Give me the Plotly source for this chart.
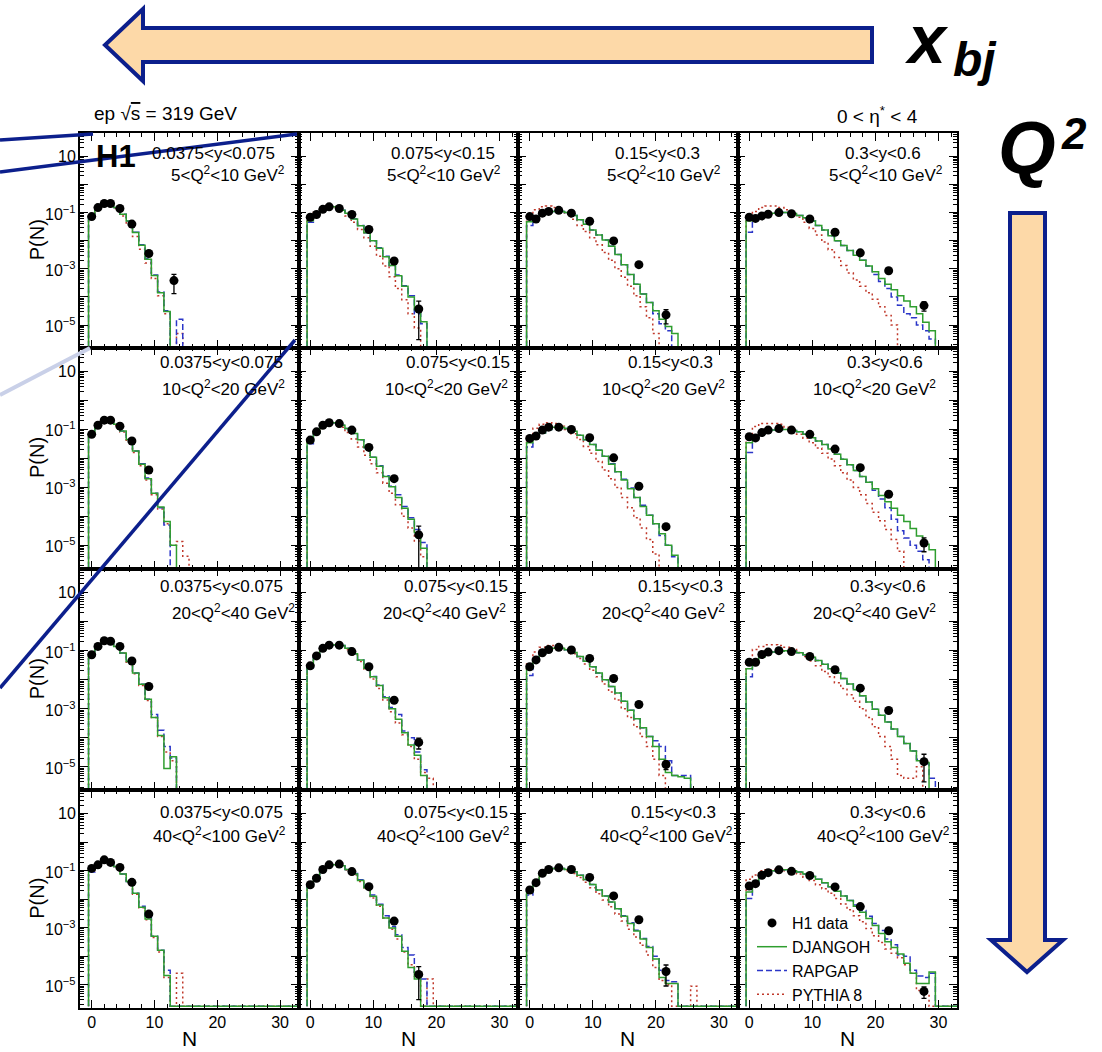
import math
import plotly.graph_objects as go

# ============ DATA ============
y_bin_labels = ["0.0375&lt;y&lt;0.075", "0.075&lt;y&lt;0.15", "0.15&lt;y&lt;0.3", "0.3&lt;y&lt;0.6"]
q2_bin_labels = ["5&lt;Q<sup>2</sup>&lt;10 GeV<sup>2</sup>", "10&lt;Q<sup>2</sup>&lt;20 GeV<sup>2</sup>",
                 "20&lt;Q<sup>2</sup>&lt;40 GeV<sup>2</sup>", "40&lt;Q<sup>2</sup>&lt;100 GeV<sup>2</sup>"]
x_tick_vals = [0, 10, 20, 30]
y_label_decades = [-5, -3, -1, 1]
y_label_text = ["10<sup>\u22125</sup>", "10<sup>\u22123</sup>", "10<sup>\u22121</sup>", "10"]

# H1 data point positions (mean N of the data bins) per column
data_x_col1 = [0, 1, 2, 3, 4.5, 6.4, 9.1, 13.1]
data_x_col2 = [0, 1, 2, 3, 4.6, 6.6, 9.3, 13.3, 17.2]
data_x_col3 = [0, 1, 2, 3, 4.6, 6.6, 9.5, 13.3, 17.3, 21.6]
data_x_col4 = [0, 1, 2, 3, 4.7, 6.7, 9.6, 13.6, 17.6, 22.1, 27.7]

# H1 data P(N)
h1_r1c1 = [7.2e-2, 1.5e-1, 2.1e-1, 2.1e-1, 1.4e-1, 3.9e-2, 3.5e-3, 3.8e-4]
h1_r1c2 = [6.8e-2, 8.5e-2, 1.3e-1, 1.6e-1, 1.4e-1, 8.5e-2, 2.5e-2, 1.9e-3, 3.7e-5]
h1_r1c3 = [7.2e-2, 5.9e-2, 9.5e-2, 1.1e-1, 1.2e-1, 9.5e-2, 4.9e-2, 9.8e-3, 1.4e-3, 2.3e-5]
h1_r1c4 = [6.8e-2, 6.2e-2, 7.6e-2, 8.7e-2, 1.0e-1, 9.1e-2, 5.9e-2, 2.0e-2, 3.7e-3, 8.5e-4, 4.9e-5]
h1_r2c1 = [6.8e-2, 1.4e-1, 2.1e-1, 2.1e-1, 1.3e-1, 4.0e-2, 4.0e-3]
h1_r2c2 = [4.3e-2, 8.3e-2, 1.4e-1, 1.7e-1, 1.6e-1, 9.5e-2, 2.4e-2, 2.0e-3, 2.3e-5]
h1_r2c3 = [4.9e-2, 5.9e-2, 9.5e-2, 1.2e-1, 1.2e-1, 1.0e-1, 5.2e-2, 1.05e-2, 1.1e-3, 4.4e-5]
h1_r2c4 = [5.6e-2, 5.1e-2, 7.8e-2, 9.5e-2, 1.07e-1, 9.5e-2, 6.8e-2, 2.1e-2, 4.8e-3, 5.8e-4, 1.2e-5]
h1_r3c1 = [7.2e-2, 1.4e-1, 2.2e-1, 2.1e-1, 1.4e-1, 4.4e-2, 5.8e-3]
h1_r3c2 = [3.0e-2, 6.6e-2, 1.2e-1, 1.55e-1, 1.55e-1, 9.3e-2, 2.8e-2, 1.95e-3, 6.9e-5]
h1_r3c3 = [2.8e-2, 4.8e-2, 8.5e-2, 1.1e-1, 1.3e-1, 1.05e-1, 5.4e-2, 1.1e-2, 1.4e-3, 1.2e-5]
h1_r3c4 = [4.0e-2, 4.0e-2, 7.4e-2, 8.9e-2, 1.0e-1, 9.3e-2, 6.3e-2, 2.2e-2, 5.1e-3, 8.7e-4, 1.5e-5]
h1_r4c1 = [1.2e-1, 1.6e-1, 2.4e-1, 1.95e-1, 1.3e-1, 3.9e-2, 3.0e-3]
h1_r4c2 = [3.2e-2, 5.4e-2, 1.1e-1, 1.6e-1, 1.7e-1, 9.3e-2, 2.75e-2, 1.7e-3, 2.3e-5]
h1_r4c3 = [2.1e-2, 3.8e-2, 8.1e-2, 1.1e-1, 1.26e-1, 1.1e-1, 5.8e-2, 1.3e-2, 1.9e-3, 2.9e-5]
h1_r4c4 = [2.9e-2, 3.5e-2, 6.9e-2, 8.5e-2, 1.07e-1, 9.5e-2, 6.8e-2, 2.7e-2, 5.5e-3, 7.8e-4, 5.8e-6]

# uncertainty of the last (highest-N) data point in each panel, row by row
h1_last_err = [2.5e-4, 3.4e-5, 1.2e-5, 1.8e-5,
               2.0e-4, 2.3e-5, 8.0e-6, 6.0e-6,
               3.0e-4, 2.8e-5, 4.0e-6, 1.2e-5,
               2.0e-4, 2.0e-5, 2.0e-5, 2.5e-6]

# MC predictions, P(N) for N = 0, 1, 2, ... (bins not listed are empty)
djangoh_r1c1 = [7.6e-2, 1.5e-1, 2.0e-1, 2.0e-1, 1.5e-1, 8.7e-2, 5.0e-2, 1.95e-2, 6.9e-3, 2.2e-3, 5.8e-4, 1.4e-4, 3.0e-5]
rapgap_r1c1 = [7.2e-2, 1.5e-1, 2.0e-1, 2.0e-1, 1.5e-1, 8.7e-2, 5.0e-2, 2.0e-2, 7.2e-3, 2.3e-3, 6.0e-4, 1.5e-4, 3.2e-5, 0, 1.6e-5]
pythia_r1c1 = [7.1e-2, 1.5e-1, 2.1e-1, 2.0e-1, 1.4e-1, 7.6e-2, 3.8e-2, 1.4e-2, 5.0e-3, 1.6e-3, 4.5e-4, 1.1e-4, 2.5e-5, 0, 5.0e-6]

djangoh_r1c2 = [5.1e-2, 8.7e-2, 1.4e-1, 1.7e-1, 1.6e-1, 1.2e-1, 9.5e-2, 5.9e-2, 3.4e-2, 1.9e-2, 1.0e-2, 5.4e-3, 2.7e-3, 1.3e-3, 5.6e-4, 2.4e-4, 1.0e-4, 3.5e-5, 1.3e-5]
rapgap_r1c2 = [4.5e-2, 8.5e-2, 1.4e-1, 1.7e-1, 1.6e-1, 1.2e-1, 9.5e-2, 6.0e-2, 3.5e-2, 1.9e-2, 1.0e-2, 5.6e-3, 2.8e-3, 1.3e-3, 6.0e-4, 2.5e-4, 1.1e-4, 2.5e-5, 1.1e-5]
pythia_r1c2 = [5.6e-2, 1.1e-1, 1.6e-1, 1.8e-1, 1.6e-1, 1.2e-1, 7.6e-2, 4.5e-2, 2.5e-2, 1.26e-2, 6.3e-3, 2.8e-3, 1.26e-3, 5.2e-4, 2.0e-4, 7.9e-5, 2.5e-5, 7.9e-6]

djangoh_r1c3 = [4.7e-2, 6.3e-2, 8.3e-2, 1.0e-1, 1.1e-1, 1.1e-1, 1.0e-1, 7.9e-2, 5.6e-2, 3.8e-2, 2.4e-2, 1.6e-2, 1.05e-2, 6.3e-3, 3.2e-3, 1.4e-3, 6.3e-4, 2.8e-4, 1.26e-4, 6.3e-5, 3.2e-5, 1.6e-5, 8.9e-6, 5.0e-6]
rapgap_r1c3 = [3.5e-2, 6.3e-2, 8.3e-2, 1.0e-1, 1.1e-1, 1.1e-1, 1.0e-1, 7.9e-2, 5.6e-2, 3.8e-2, 2.4e-2, 1.6e-2, 1.05e-2, 6.3e-3, 3.2e-3, 1.4e-3, 6.3e-4, 2.8e-4, 1.26e-4, 6.3e-5, 2.5e-5, 1.1e-5, 6.3e-6]
pythia_r1c3 = [7.1e-2, 1.26e-1, 1.6e-1, 1.7e-1, 1.5e-1, 1.2e-1, 8.7e-2, 5.8e-2, 3.5e-2, 2.1e-2, 1.26e-2, 7.1e-3, 3.8e-3, 2.0e-3, 1.0e-3, 5.0e-4, 2.4e-4, 1.1e-4, 4.5e-5, 1.8e-5, 5.0e-6]

djangoh_r1c4 = [5.1e-2, 6.3e-2, 7.6e-2, 8.5e-2, 9.5e-2, 1.0e-1, 1.0e-1, 9.3e-2, 7.9e-2, 6.6e-2, 5.0e-2, 3.5e-2, 2.4e-2, 1.5e-2, 1.0e-2, 6.8e-3, 4.5e-3, 3.0e-3, 2.0e-3, 1.26e-3, 7.9e-4, 4.5e-4, 2.8e-4, 1.8e-4, 1.1e-4, 7.1e-5, 4.5e-5, 2.5e-5, 1.26e-5, 6.3e-6]
rapgap_r1c4 = [2.0e-2, 6.3e-2, 7.6e-2, 8.5e-2, 9.5e-2, 1.0e-1, 1.0e-1, 9.3e-2, 7.9e-2, 6.6e-2, 5.0e-2, 3.5e-2, 2.4e-2, 1.5e-2, 1.0e-2, 6.8e-3, 4.5e-3, 3.0e-3, 2.0e-3, 1.26e-3, 6.3e-4, 3.5e-4, 2.0e-4, 1.0e-4, 5.0e-5, 2.5e-5, 1.8e-5, 1.0e-5, 6.3e-6, 3.2e-6]
pythia_r1c4 = [5.6e-2, 1.1e-1, 1.5e-1, 1.7e-1, 1.7e-1, 1.5e-1, 1.26e-1, 9.5e-2, 6.8e-2, 4.5e-2, 2.7e-2, 1.6e-2, 8.9e-3, 4.8e-3, 2.5e-3, 1.3e-3, 7.1e-4, 4.0e-4, 2.4e-4, 1.4e-4, 8.3e-5, 4.5e-5, 2.2e-5, 1.0e-5]

djangoh_r2c1 = [7.1e-2, 1.4e-1, 2.0e-1, 2.1e-1, 1.5e-1, 8.9e-2, 4.5e-2, 1.8e-2, 6.3e-3, 2.0e-3, 6.3e-4, 2.1e-4, 6.6e-5, 1.0e-5]
rapgap_r2c1 = [6.8e-2, 1.4e-1, 2.0e-1, 2.1e-1, 1.5e-1, 8.9e-2, 4.5e-2, 1.8e-2, 6.6e-3, 2.1e-3, 6.3e-4, 2.0e-4, 5.0e-5]
pythia_r2c1 = [7.1e-2, 1.4e-1, 2.1e-1, 2.1e-1, 1.4e-1, 8.1e-2, 3.9e-2, 1.6e-2, 5.6e-3, 1.8e-3, 5.6e-4, 1.8e-4, 5.6e-5, 1.0e-5, 1.35e-5, 4.2e-6]

djangoh_r2c2 = [3.8e-2, 7.6e-2, 1.26e-1, 1.6e-1, 1.7e-1, 1.4e-1, 1.07e-1, 7.2e-2, 4.4e-2, 2.4e-2, 1.1e-2, 5.4e-3, 2.4e-3, 1.05e-3, 4.5e-4, 1.9e-4, 7.9e-5, 2.8e-5, 7.9e-6]
rapgap_r2c2 = [3.2e-2, 7.6e-2, 1.26e-1, 1.6e-1, 1.7e-1, 1.4e-1, 1.07e-1, 7.2e-2, 4.4e-2, 2.4e-2, 1.1e-2, 5.6e-3, 2.5e-3, 1.1e-3, 5.6e-4, 2.2e-4, 8.9e-5, 3.5e-5, 1.26e-5]
pythia_r2c2 = [4.0e-2, 8.9e-2, 1.4e-1, 1.7e-1, 1.6e-1, 1.2e-1, 7.9e-2, 4.7e-2, 2.5e-2, 1.3e-2, 6.6e-3, 3.2e-3, 1.4e-3, 6.3e-4, 2.5e-4, 1.0e-4, 4.0e-5, 1.4e-5, 4.0e-6]

djangoh_r2c3 = [3.5e-2, 5.4e-2, 7.6e-2, 1.0e-1, 1.2e-1, 1.2e-1, 1.07e-1, 8.7e-2, 6.3e-2, 4.4e-2, 3.0e-2, 1.9e-2, 1.2e-2, 6.3e-3, 3.5e-3, 1.8e-3, 8.9e-4, 4.5e-4, 2.2e-4, 1.1e-4, 5.6e-5, 2.5e-5, 1.0e-5, 4.5e-6]
rapgap_r2c3 = [2.5e-2, 5.4e-2, 7.6e-2, 1.0e-1, 1.2e-1, 1.2e-1, 1.07e-1, 8.7e-2, 6.3e-2, 4.4e-2, 3.0e-2, 1.9e-2, 1.2e-2, 6.6e-3, 3.5e-3, 1.9e-3, 9.5e-4, 4.5e-4, 2.4e-4, 1.1e-4, 5.6e-5, 2.2e-5, 1.0e-5, 4.0e-6]
pythia_r2c3 = [5.6e-2, 1.1e-1, 1.5e-1, 1.7e-1, 1.6e-1, 1.3e-1, 1.0e-1, 7.1e-2, 4.5e-2, 2.6e-2, 1.5e-2, 7.9e-3, 4.0e-3, 2.0e-3, 1.0e-3, 4.5e-4, 2.0e-4, 8.9e-5, 4.0e-5, 1.6e-5, 5.0e-6]

djangoh_r2c4 = [3.5e-2, 5.6e-2, 7.1e-2, 8.5e-2, 9.5e-2, 1.0e-1, 1.0e-1, 9.3e-2, 8.3e-2, 6.9e-2, 5.2e-2, 4.0e-2, 3.0e-2, 2.1e-2, 1.4e-2, 9.3e-3, 6.0e-3, 3.8e-3, 2.4e-3, 1.5e-3, 8.9e-4, 5.2e-4, 3.2e-4, 1.9e-4, 1.1e-4, 6.6e-5, 3.8e-5, 2.1e-5, 1.1e-5, 7.1e-6]
rapgap_r2c4 = [1.6e-2, 5.6e-2, 7.1e-2, 8.5e-2, 9.5e-2, 1.0e-1, 1.0e-1, 9.3e-2, 8.3e-2, 6.9e-2, 5.2e-2, 4.0e-2, 3.0e-2, 2.1e-2, 1.4e-2, 9.3e-3, 6.0e-3, 3.8e-3, 2.4e-3, 1.5e-3, 7.9e-4, 4.0e-4, 2.0e-4, 7.9e-5, 3.2e-5, 1.8e-5, 1.0e-5, 6.3e-6, 3.2e-6]
pythia_r2c4 = [5.0e-2, 1.26e-1, 1.6e-1, 1.6e-1, 1.6e-1, 1.5e-1, 1.2e-1, 9.3e-2, 6.9e-2, 5.0e-2, 3.5e-2, 2.3e-2, 1.5e-2, 9.5e-3, 5.6e-3, 3.2e-3, 1.8e-3, 1.0e-3, 5.6e-4, 2.8e-4, 1.4e-4, 7.1e-5, 3.5e-5, 1.6e-5, 6.3e-6]

djangoh_r3c1 = [7.1e-2, 1.4e-1, 2.0e-1, 2.0e-1, 1.4e-1, 8.3e-2, 4.2e-2, 1.7e-2, 6.9e-3, 2.1e-3, 5.0e-4, 1.2e-4, 8.7e-6, 2.2e-5]
rapgap_r3c1 = [6.8e-2, 1.4e-1, 2.0e-1, 2.0e-1, 1.4e-1, 8.3e-2, 4.2e-2, 1.7e-2, 6.9e-3, 2.1e-3, 6.3e-4, 1.8e-4, 5.0e-5, 2.0e-5]
pythia_r3c1 = [7.1e-2, 1.4e-1, 2.0e-1, 2.0e-1, 1.4e-1, 8.1e-2, 4.0e-2, 1.6e-2, 6.3e-3, 1.9e-3, 5.0e-4, 1.1e-4, 3.2e-5, 1.6e-5]

djangoh_r3c2 = [2.8e-2, 6.3e-2, 1.07e-1, 1.4e-1, 1.6e-1, 1.5e-1, 1.2e-1, 7.9e-2, 4.8e-2, 2.5e-2, 1.26e-2, 6.3e-3, 2.4e-3, 1.0e-3, 4.3e-4, 1.5e-4, 5.6e-5, 2.5e-5, 5.0e-6]
rapgap_r3c2 = [2.6e-2, 6.3e-2, 1.07e-1, 1.4e-1, 1.6e-1, 1.5e-1, 1.2e-1, 7.9e-2, 4.8e-2, 2.6e-2, 1.3e-2, 6.6e-3, 2.6e-3, 1.1e-3, 6.3e-4, 1.7e-4, 1.0e-4, 3.2e-5, 7.9e-6]
pythia_r3c2 = [2.8e-2, 7.1e-2, 1.1e-1, 1.5e-1, 1.6e-1, 1.4e-1, 1.07e-1, 7.1e-2, 4.2e-2, 2.2e-2, 1.05e-2, 5.0e-3, 2.0e-3, 7.9e-4, 3.2e-4, 1.26e-4, 5.0e-5, 1.8e-5, 6.3e-6, 4.0e-6]

djangoh_r3c3 = [2.5e-2, 4.5e-2, 7.6e-2, 1.0e-1, 1.2e-1, 1.2e-1, 1.07e-1, 8.7e-2, 6.3e-2, 4.3e-2, 2.8e-2, 1.7e-2, 1.0e-2, 5.8e-3, 3.5e-3, 1.8e-3, 8.9e-4, 4.5e-4, 2.2e-4, 1.1e-4, 5.0e-5, 1.8e-5, 6.3e-6, 5.0e-6, 4.5e-6, 4.0e-6]
rapgap_r3c3 = [1.4e-2, 4.5e-2, 7.6e-2, 1.0e-1, 1.2e-1, 1.2e-1, 1.07e-1, 8.7e-2, 6.3e-2, 4.3e-2, 2.8e-2, 1.7e-2, 1.0e-2, 5.8e-3, 3.5e-3, 1.8e-3, 8.9e-4, 4.5e-4, 2.2e-4, 1.1e-4, 7.9e-5, 5.0e-5, 1.6e-5, 5.0e-6, 5.0e-6, 5.0e-6]
pythia_r3c3 = [3.5e-2, 8.9e-2, 1.3e-1, 1.5e-1, 1.5e-1, 1.3e-1, 1.05e-1, 7.9e-2, 5.4e-2, 3.5e-2, 2.1e-2, 1.26e-2, 7.1e-3, 3.8e-3, 2.0e-3, 1.0e-3, 5.0e-4, 2.4e-4, 1.1e-4, 5.0e-5, 1.8e-5, 5.0e-6]

djangoh_r3c4 = [2.4e-2, 3.8e-2, 6.0e-2, 7.9e-2, 8.9e-2, 9.5e-2, 1.0e-1, 9.5e-2, 8.5e-2, 7.2e-2, 5.9e-2, 4.6e-2, 3.4e-2, 2.4e-2, 1.7e-2, 1.1e-2, 7.1e-3, 4.5e-3, 2.8e-3, 1.7e-3, 9.5e-4, 6.0e-4, 3.5e-4, 2.0e-4, 1.1e-4, 6.3e-5, 3.5e-5, 1.6e-5, 1.4e-5]
rapgap_r3c4 = [1.26e-2, 3.8e-2, 6.0e-2, 7.9e-2, 8.9e-2, 9.5e-2, 1.0e-1, 9.5e-2, 8.5e-2, 7.2e-2, 5.9e-2, 4.6e-2, 3.4e-2, 2.4e-2, 1.7e-2, 1.1e-2, 7.1e-3, 4.5e-3, 2.8e-3, 1.7e-3, 9.5e-4, 6.0e-4, 3.5e-4, 2.0e-4, 1.1e-4, 6.3e-5, 3.5e-5, 1.8e-5, 1.26e-5, 4.0e-6]
pythia_r3c4 = [4.0e-2, 1.1e-1, 1.4e-1, 1.6e-1, 1.6e-1, 1.5e-1, 1.3e-1, 1.1e-1, 8.7e-2, 6.3e-2, 4.4e-2, 3.0e-2, 1.9e-2, 1.26e-2, 7.9e-3, 5.0e-3, 3.0e-3, 1.8e-3, 1.0e-3, 5.0e-4, 2.4e-4, 1.1e-4, 5.0e-5, 1.8e-5, 5.0e-6, 4.0e-6, 4.0e-6, 1.0e-5]

djangoh_r4c1 = [1.07e-1, 1.5e-1, 2.1e-1, 2.0e-1, 1.4e-1, 7.6e-2, 4.2e-2, 1.6e-2, 5.2e-3, 2.0e-3, 5.0e-4, 1.6e-4, 2.1e-5]
rapgap_r4c1 = [8.9e-2, 1.5e-1, 2.1e-1, 2.0e-1, 1.4e-1, 7.6e-2, 4.2e-2, 1.6e-2, 5.6e-3, 2.5e-3, 5.0e-4, 1.6e-4, 3.2e-5]
pythia_r4c1 = [1.0e-1, 1.5e-1, 2.1e-1, 2.0e-1, 1.4e-1, 7.6e-2, 4.0e-2, 1.5e-2, 5.0e-3, 1.9e-3, 4.5e-4, 1.4e-4, 1.8e-5, 0, 2.5e-5]

djangoh_r4c2 = [2.8e-2, 6.0e-2, 1.1e-1, 1.5e-1, 1.6e-1, 1.5e-1, 1.1e-1, 7.6e-2, 4.5e-2, 2.5e-2, 1.26e-2, 6.3e-3, 2.2e-3, 9.8e-4, 5.0e-4, 1.5e-4, 4.0e-5, 1.6e-5]
rapgap_r4c2 = [2.6e-2, 6.0e-2, 1.1e-1, 1.5e-1, 1.6e-1, 1.5e-1, 1.1e-1, 7.9e-2, 4.8e-2, 2.6e-2, 1.4e-2, 6.6e-3, 2.6e-3, 1.1e-3, 5.6e-4, 2.0e-4, 1.1e-4, 2.5e-5, 1.6e-5]
pythia_r4c2 = [2.8e-2, 6.3e-2, 1.1e-1, 1.5e-1, 1.6e-1, 1.4e-1, 1.05e-1, 7.1e-2, 4.2e-2, 2.3e-2, 1.1e-2, 5.6e-3, 2.2e-3, 8.9e-4, 4.0e-4, 1.4e-4, 5.0e-5, 2.0e-5, 0, 1.6e-5]

djangoh_r4c3 = [1.8e-2, 3.5e-2, 7.1e-2, 1.0e-1, 1.2e-1, 1.2e-1, 1.1e-1, 9.1e-2, 6.9e-2, 4.9e-2, 3.3e-2, 2.1e-2, 1.3e-2, 7.9e-3, 4.6e-3, 2.5e-3, 1.4e-3, 7.6e-4, 4.0e-4, 2.0e-4, 7.9e-5, 1.8e-5, 1.1e-5, 1.1e-5]
rapgap_r4c3 = [1.4e-2, 3.5e-2, 7.1e-2, 1.0e-1, 1.2e-1, 1.2e-1, 1.1e-1, 9.1e-2, 6.9e-2, 4.9e-2, 3.3e-2, 2.1e-2, 1.3e-2, 7.9e-3, 4.6e-3, 2.6e-3, 1.5e-3, 8.1e-4, 4.2e-4, 2.2e-4, 1.0e-4, 3.2e-5, 1.4e-5, 1.26e-5]
pythia_r4c3 = [1.8e-2, 3.8e-2, 7.6e-2, 1.05e-1, 1.2e-1, 1.15e-1, 1.0e-1, 7.9e-2, 5.8e-2, 3.9e-2, 2.5e-2, 1.55e-2, 9.3e-3, 5.4e-3, 3.0e-3, 1.7e-3, 8.9e-4, 4.7e-4, 2.4e-4, 1.1e-4, 4.0e-5, 1.4e-5, 1.0e-5, 0, 0, 0, 8.9e-6]

djangoh_r4c4 = [1.8e-2, 3.4e-2, 6.3e-2, 8.3e-2, 1.0e-1, 1.07e-1, 1.07e-1, 1.0e-1, 8.9e-2, 7.6e-2, 6.3e-2, 5.0e-2, 3.8e-2, 2.75e-2, 1.9e-2, 1.3e-2, 8.9e-3, 5.6e-3, 3.5e-3, 2.1e-3, 1.2e-3, 6.3e-4, 3.2e-4, 2.0e-4, 1.2e-4, 5.6e-5, 2.5e-5, 1.1e-5, 1.1e-5, 2.8e-5]
rapgap_r4c4 = [1.05e-2, 3.2e-2, 6.3e-2, 8.3e-2, 1.0e-1, 1.07e-1, 1.07e-1, 1.0e-1, 8.9e-2, 7.6e-2, 6.3e-2, 5.0e-2, 3.8e-2, 2.75e-2, 1.9e-2, 1.3e-2, 8.9e-3, 6.3e-3, 4.0e-3, 2.5e-3, 1.4e-3, 7.9e-4, 4.0e-4, 2.5e-4, 1.1e-4, 1.0e-4, 3.2e-5, 2.0e-5, 1.8e-5, 2.5e-5]
pythia_r4c4 = [5.0e-2, 7.1e-2, 1.0e-1, 1.07e-1, 1.1e-1, 1.07e-1, 1.0e-1, 9.3e-2, 7.6e-2, 5.9e-2, 4.5e-2, 3.2e-2, 2.3e-2, 1.6e-2, 1.05e-2, 6.8e-3, 4.3e-3, 2.6e-3, 1.6e-3, 9.3e-4, 5.2e-4, 3.0e-4, 1.8e-4, 1.26e-4, 8.9e-5, 5.0e-5, 2.5e-5, 6.3e-6, 5.0e-6]

# ============ LAYOUT / STYLE ============
W, H = 1102, 1052
YLOG_MIN, YLOG_MAX = -5.8, 1.83
X_MIN, X_MAX = -1.86, 32.93
N_HIST_BINS = 34
FONT = "Liberation Sans, Arial, Helvetica, sans-serif"
C_DJ, C_RG, C_PY = "#2f9e2f", "#2b36c8", "#c0392b"
NAVY = "#0c1f8c"

col_px = [(80, 298.5), (298.5, 518), (518, 737.5), (737.5, 957)]
row_px = [(133, 347.5), (347.5, 568.5), (568.5, 790), (790, 1007.5)]
# empty bins are drawn on the lower frame; in the bottom row they sit just above it
row_floor_log = [YLOG_MIN, YLOG_MIN, YLOG_MIN, YLOG_MIN + 0.04]

h1 = [[h1_r1c1, h1_r1c2, h1_r1c3, h1_r1c4], [h1_r2c1, h1_r2c2, h1_r2c3, h1_r2c4],
      [h1_r3c1, h1_r3c2, h1_r3c3, h1_r3c4], [h1_r4c1, h1_r4c2, h1_r4c3, h1_r4c4]]
dj = [[djangoh_r1c1, djangoh_r1c2, djangoh_r1c3, djangoh_r1c4], [djangoh_r2c1, djangoh_r2c2, djangoh_r2c3, djangoh_r2c4],
      [djangoh_r3c1, djangoh_r3c2, djangoh_r3c3, djangoh_r3c4], [djangoh_r4c1, djangoh_r4c2, djangoh_r4c3, djangoh_r4c4]]
rg = [[rapgap_r1c1, rapgap_r1c2, rapgap_r1c3, rapgap_r1c4], [rapgap_r2c1, rapgap_r2c2, rapgap_r2c3, rapgap_r2c4],
      [rapgap_r3c1, rapgap_r3c2, rapgap_r3c3, rapgap_r3c4], [rapgap_r4c1, rapgap_r4c2, rapgap_r4c3, rapgap_r4c4]]
py8 = [[pythia_r1c1, pythia_r1c2, pythia_r1c3, pythia_r1c4], [pythia_r2c1, pythia_r2c2, pythia_r2c3, pythia_r2c4],
       [pythia_r3c1, pythia_r3c2, pythia_r3c3, pythia_r3c4], [pythia_r4c1, pythia_r4c2, pythia_r4c3, pythia_r4c4]]
data_x = [data_x_col1, data_x_col2, data_x_col3, data_x_col4]

# text positions (pixels): right end of the two label lines, and their vertical centres
l1_right = [[277, 497, 702, 923], [285, 512, 715, 925], [285, 510, 725, 928], [285, 510, 718, 928]]
l2_right = [[287, 503, 723, 945], [287, 510, 727, 938], [297, 508, 727, 938], [288, 512, 735, 952]]
l1_y = [153, 362, 586, 812]
l2_y = [174, 388, 612, 835]


def px(x):
    return x / W


def py(y):
    return 1 - y / H


def step_xy(vals, floor):
    v = list(vals) + [0] * (N_HIST_BINS - len(vals))
    v = [max(a, floor) for a in v]
    xs = [-0.5] + [k - 0.5 for k in range(N_HIST_BINS)] + [N_HIST_BINS - 0.5]
    ys = [floor] + v + [v[-1]]
    return xs, ys


fig = go.Figure()

minor_x = [m for m in range(2, 34, 2) if m % 10 != 0]
major_y = [10.0 ** k for k in range(-5, 2)]
minor_y = [m * 10.0 ** k for k in range(-6, 2) for m in range(2, 10)
           if YLOG_MIN < math.log10(m * 10.0 ** k) < YLOG_MAX]

annotations = []
for r in range(4):
    floor = 10 ** row_floor_log[r]
    for c in range(4):
        i = r * 4 + c + 1
        xa = "x" if i == 1 else f"x{i}"
        ya = "y" if i == 1 else f"y{i}"
        xn = "xaxis" if i == 1 else f"xaxis{i}"
        yn = "yaxis" if i == 1 else f"yaxis{i}"
        last = (r == 3 and c == 3)

        for vals, name, col, dash, rank in [(py8[r][c], "PYTHIA 8", C_PY, "2px,3px", 4),
                                            (rg[r][c], "RAPGAP", C_RG, "6px,3px", 3),
                                            (dj[r][c], "DJANGOH", C_DJ, "solid", 2)]:
            xs, ys = step_xy(vals, floor)
            fig.add_trace(go.Scatter(x=xs, y=ys, mode="lines", line=dict(color=col, width=1.5, dash=dash, shape="hv"),
                                     name=name, showlegend=last, legendrank=rank, xaxis=xa, yaxis=ya,
                                     hoverinfo="skip"))
        yv = h1[r][c]
        xv = data_x[c][:len(yv)]
        err = [0.0] * (len(yv) - 1) + [h1_last_err[r * 4 + c]]
        errm = [min(e, 0.97 * y) for e, y in zip(err, yv)]
        fig.add_trace(go.Scatter(x=xv, y=yv, mode="markers", name="H1 data", showlegend=last, legendrank=1,
                                 marker=dict(color="black", size=9),
                                 error_y=dict(type="data", array=err, arrayminus=errm, color="black",
                                              thickness=1.3, width=2.5),
                                 xaxis=xa, yaxis=ya))

        x0, x1 = col_px[c]
        y0, y1 = row_px[r]
        fig.layout[xn] = dict(domain=[px(x0), px(x1)], range=[X_MIN, X_MAX], anchor=ya,
                              showline=True, linecolor="black", linewidth=1.5, mirror="ticks",
                              ticks="inside", ticklen=8, tickwidth=1, tickcolor="black",
                              tickvals=x_tick_vals, ticktext=[str(t) for t in x_tick_vals],
                              showticklabels=(r == 3), tickfont=dict(family=FONT, size=16, color="black"),
                              minor=dict(ticks="inside", ticklen=4, tickwidth=1, tickcolor="black", tickvals=minor_x),
                              showgrid=False, zeroline=False, fixedrange=True)
        fig.layout[yn] = dict(domain=[py(y1), py(y0)], type="log", range=[YLOG_MIN, YLOG_MAX], anchor=xa,
                              showline=True, linecolor="black", linewidth=1.5, mirror="ticks",
                              ticks="inside", ticklen=8, tickwidth=1, tickcolor="black",
                              tickvals=major_y, showticklabels=False,
                              minor=dict(ticks="inside", ticklen=4, tickwidth=1, tickcolor="black", tickvals=minor_y),
                              showgrid=False, zeroline=False, fixedrange=True)
        if c == 0:
            # y tick labels placed on the axis' own log scale
            for dec, txt in zip(y_label_decades, y_label_text):
                annotations.append(dict(x=px(x0 - 2), y=dec, xref="paper", yref=ya, text=txt, showarrow=False,
                                        xanchor="right", yanchor="middle",
                                        font=dict(family=FONT, size=16, color="black")))

for r in range(4):
    for c in range(4):
        annotations.append(dict(x=px(l1_right[r][c]), y=py(l1_y[r]), xref="paper", yref="paper",
                                text=y_bin_labels[c], showarrow=False, xanchor="right", yanchor="middle",
                                font=dict(family=FONT, size=17, color="black")))
        annotations.append(dict(x=px(l2_right[r][c]), y=py(l2_y[r]), xref="paper", yref="paper",
                                text=q2_bin_labels[r], showarrow=False, xanchor="right", yanchor="middle",
                                font=dict(family=FONT, size=17, color="black")))
    annotations.append(dict(x=px(37), y=py((row_px[r][0] + row_px[r][1]) / 2), xref="paper", yref="paper",
                            text="P(N)", textangle=-90, showarrow=False, xanchor="center", yanchor="middle",
                            font=dict(family=FONT, size=20, color="black")))
for c in range(4):
    annotations.append(dict(x=px((col_px[c][0] + col_px[c][1]) / 2), y=py(1038.5), xref="paper", yref="paper",
                            text="N", showarrow=False, xanchor="center", yanchor="middle",
                            font=dict(family=FONT, size=21, color="black")))

annotations += [
    dict(x=px(92), y=py(113.5), xref="paper", yref="paper", showarrow=False, xanchor="left", yanchor="middle",
         text="ep \u221a<span style='text-decoration:overline'>s</span> = 319 GeV",
         font=dict(family=FONT, size=19, color="black")),
    dict(x=px(877), y=py(115), xref="paper", yref="paper", showarrow=False, xanchor="center", yanchor="middle",
         text="0 &lt; \u03b7<sup>*</sup> &lt; 4", font=dict(family=FONT, size=19, color="black")),
    dict(x=px(94), y=py(157), xref="paper", yref="paper", showarrow=False, xanchor="left", yanchor="middle",
         text="<b>H1</b>", font=dict(family=FONT, size=31, color="black")),
    dict(x=px(903), y=py(39), xref="paper", yref="paper", showarrow=False, xanchor="left", yanchor="middle",
         text="<b><i>x</i></b>", font=dict(family=FONT, size=68, color="black")),
    dict(x=px(951), y=py(59), xref="paper", yref="paper", showarrow=False, xanchor="left", yanchor="middle",
         text="<b><i>bj</i></b>", font=dict(family=FONT, size=48, color="black")),
    dict(x=px(996), y=py(148), xref="paper", yref="paper", showarrow=False, xanchor="left", yanchor="middle",
         text="<b><i>Q</i></b>", font=dict(family=FONT, size=74, color="black")),
    dict(x=px(1059), y=py(133), xref="paper", yref="paper", showarrow=False, xanchor="left", yanchor="middle",
         text="<b><i>2</i></b>", font=dict(family=FONT, size=44, color="black")),
]


def poly(points):
    return "M " + " L ".join(f"{px(x):.5f},{py(y):.5f}" for x, y in points) + " Z"


shapes = [
    # x_bj arrow (pointing left)
    dict(type="path", xref="paper", yref="paper", layer="above",
         path=poly([(872, 28), (143, 28), (143, 9), (105, 45), (143, 81), (143, 62), (872, 62)]),
         fillcolor="#fdd9a8", line=dict(color=NAVY, width=4)),
    # Q^2 arrow (pointing down)
    dict(type="path", xref="paper", yref="paper", layer="above",
         path=poly([(1010, 213), (1045, 213), (1045, 940), (1063, 940), (1027, 972), (991, 940), (1010, 940)]),
         fillcolor="#fdd9a8", line=dict(color=NAVY, width=4)),
    # stray navy lines across the left panels
    dict(type="line", xref="paper", yref="paper", layer="above", x0=px(0), y0=py(140), x1=px(93), y1=py(134),
         line=dict(color=NAVY, width=3.5)),
    dict(type="line", xref="paper", yref="paper", layer="above", x0=px(0), y0=py(172), x1=px(297), y1=py(134),
         line=dict(color=NAVY, width=3.5)),
    dict(type="line", xref="paper", yref="paper", layer="above", x0=px(0), y0=py(395), x1=px(90), y1=py(348),
         line=dict(color="#c9d0e8", width=4)),
    dict(type="line", xref="paper", yref="paper", layer="above", x0=px(295), y0=py(340), x1=px(0), y1=py(688),
         line=dict(color=NAVY, width=3.5)),
]

fig.update_layout(
    width=W, height=H, margin=dict(l=0, r=0, t=0, b=0),
    paper_bgcolor="white", plot_bgcolor="white",
    annotations=annotations, shapes=shapes,
    showlegend=True,
    legend=dict(x=px(752), y=py(906), xanchor="left", yanchor="top", bgcolor="rgba(0,0,0,0)",
                font=dict(family=FONT, size=16, color="black"), itemwidth=30, tracegroupgap=0,
                traceorder="normal"),
    font=dict(family=FONT, color="black"),
)

fig.write_html("out.html", config={"displayModeBar": False},
               post_script="document.body.style.margin='0px';")
